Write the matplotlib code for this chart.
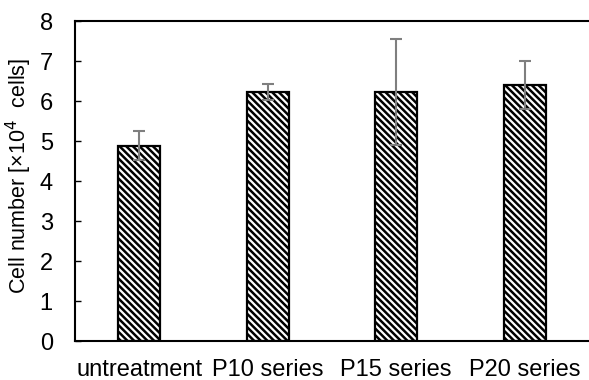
import matplotlib
matplotlib.use("Agg")
import matplotlib.pyplot as plt

categories = ["untreatment", "P10 series", "P15 series", "P20 series"]
values = [4.88, 6.22, 6.22, 6.40]
errors = [0.36, 0.20, 1.32, 0.60]
yticks = [0, 1, 2, 3, 4, 5, 6, 7, 8]

plt.rcParams['font.family'] = ['Liberation Sans', 'DejaVu Sans']
plt.rcParams['hatch.linewidth'] = 1.8
plt.rcParams['hatch.color'] = 'black'

fig = plt.figure(figsize=(5.89, 3.80), dpi=100)
ax = fig.add_axes([75/589, 39/380, 1 - 75/589, (341-21)/380])

x = range(len(categories))
ax.bar(x, values, width=0.33, color='white', edgecolor='black', linewidth=1.6,
       hatch='\\' * 5, zorder=2)
ax.errorbar(x, values, yerr=errors, fmt='none', ecolor='#7f7f7f', elinewidth=1.5,
            capsize=4.3, capthick=1.5, zorder=3)

ax.set_xlim(-0.5, len(categories) - 0.5)
ax.set_ylim(0, 8)
ax.set_yticks(yticks)
ax.set_yticklabels([str(t) for t in yticks])
ax.set_xticks(list(x))
ax.set_xticklabels(categories)

for s in ['left', 'top', 'bottom']:
    ax.spines[s].set_linewidth(1.5)
    ax.spines[s].set_color('black')
ax.spines['right'].set_visible(False)

fs = 17
ax.tick_params(axis='y', direction='in', length=4, width=1, pad=16, labelsize=fs)
ax.tick_params(axis='x', length=0, pad=13, labelsize=fs)
ax.set_ylabel('Cell number [×10$^{4}$  cells]', fontsize=15.5)
ax.yaxis.set_label_coords(34/589, 1 - 176/380, transform=fig.transFigure)

fig.savefig('out.png', dpi=100)
